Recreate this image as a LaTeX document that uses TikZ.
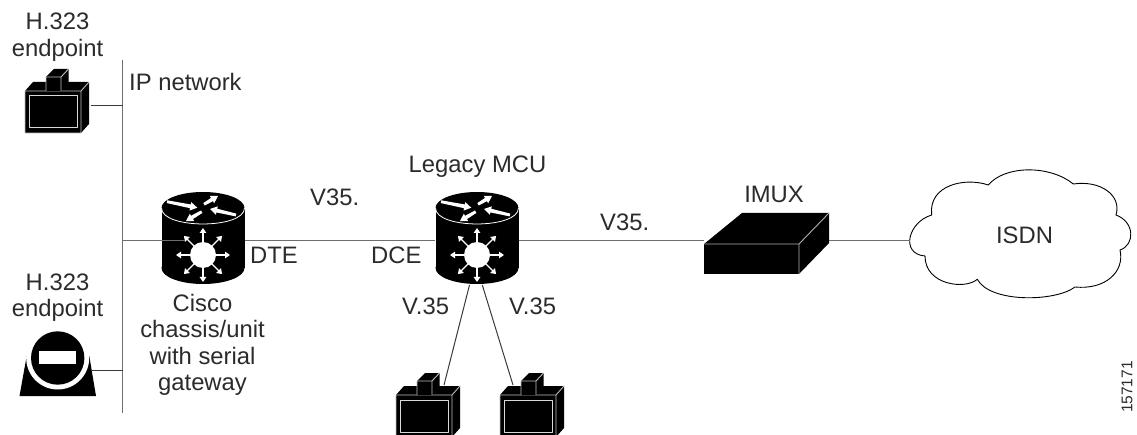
\documentclass[tikz,border=0pt]{standalone}
\usepackage{fontspec}
\setmainfont{Liberation Sans}
\usetikzlibrary{arrows.meta,calc}
\definecolor{txt}{HTML}{2B2B2B}
\definecolor{ln}{HTML}{3A3A3A}
\definecolor{bus}{HTML}{6E6E6E}
\newcommand{\bigarr}[2]{%
  \coordinate (aT) at (#1); \coordinate (aH) at (#2);
  \coordinate (aN) at ($(aH)!7pt!(aT)$);
  \fill[white] ($(aT)!1.4pt!90:(aH)$) -- ($(aN)!1.9pt!90:(aH)$) -- ($(aN)!4.3pt!90:(aH)$) -- (aH)
    -- ($(aN)!4.3pt!-90:(aH)$) -- ($(aN)!1.9pt!-90:(aH)$) -- ($(aT)!1.4pt!-90:(aH)$) -- cycle;
}
\tikzset{
  x=1pt,y=-1pt,
  lbl/.style={font=\fontsize{23.8}{26}\selectfont,text=txt,inner sep=0pt,anchor=base},
  conn/.style={draw=ln,line width=1pt},
  busline/.style={draw=bus,line width=1.3pt},
  slot/.style={inner sep=0pt,outer sep=0pt,minimum width=#1},
  edge white/.style={draw=white,line width=0.9pt,line join=round},
  starrow/.style={draw=white,line width=1.4pt,-{Triangle[length=5pt,width=6.5pt]}},
  pics/camera/.style={code={
    \fill[black] (-28,-21) -- (-20,-30) -- (36,-30) -- (36,12) -- (28,21) -- (-28,21) -- cycle;
    \draw[edge white,draw=white!75!black] (-28,-21) -- (28,-21) -- (36,-30) (28,-21) -- (28,21) -- (-28,21) -- (-28,-21);
    \draw[edge white,draw=white!85!black,line width=1pt] (-24,-16) rectangle (24,16);
    \fill[black] (-7,-21) -- (-7,-35) -- (1,-43) -- (15.5,-43) -- (15.5,-29) -- (8,-21) -- cycle;
    \draw[edge white,draw=white!75!black] (-7,-21) -- (-7,-35) -- (8,-35) -- (8,-21) (8,-35) -- (15.5,-43);
  }},
  pics/router/.style={code={
    \fill[black] (0,-16) ellipse[x radius=41.5,y radius=16];
    \fill[black] (0,44) ellipse[x radius=41.5,y radius=16];
    \fill[black] (-41.5,-16) rectangle (41.5,44);
    \draw[white,line width=0.8pt] (-41.5,-16) .. controls (-41.5,5.3) and (41.5,5.3) .. (41.5,-16);
    \bigarr{-36,-22.3}{-5.7,-16.3}
    \bigarr{1,-19.7}{15,-28}
    \bigarr{33,-9}{7,-15}
    \bigarr{-1.3,-12.3}{-17,-3}
    \fill[white] (0,31) circle[radius=13];
    \foreach \a in {0,45,...,315}
      \draw[starrow] ($(0,31)+(\a:10)$) -- ($(0,31)+(\a:27)$);
  }},
}
\begin{document}
\begin{tikzpicture}
\useasboundingbox (0,0) rectangle (1137,435);
\fill[white] (0,0) rectangle (1137,435);

% anchor nodes for the icons
\node[slot=56,minimum height=42] (camA) at (53,112) {};
\node[slot=56,minimum height=42] (camB) at (424,416) {};
\node[slot=56,minimum height=42] (camC) at (528,416) {};
\node[slot=83,minimum height=93] (routerA) at (203,239) {};
\node[slot=83,minimum height=93] (routerB) at (477,239) {};
\node[slot=76,minimum height=66] (phone) at (58,363) {};
\node[slot=125,minimum height=61] (imux) at (767,243.5) {};
\node[lbl,anchor=center,minimum width=219,minimum height=127] (cloud) at (1019.5,233.5) {};

\coordinate (busTop) at (122.5,60);
\coordinate (busBot) at (122.5,413);
\coordinate (busA) at (122.5,105.5);
\coordinate (busR) at (122.5,240.5);
\coordinate (busP) at (122.5,370.5);
\coordinate (intoA) at (185,240.5);
\coordinate (outA) at (245,240.5);
\coordinate (inB) at (435,240.5);
\coordinate (outB) at (519,240.5);
\coordinate (inI) at (704,240.5);
\coordinate (outI) at (829,240.5);
\coordinate (inC) at (910,240.5);
\coordinate (camAport) at (91,105.5);
\coordinate (phoneport) at (91,370.5);
\coordinate (rBl) at (469.5,285);
\coordinate (rBr) at (482.3,285);
\coordinate (camBport) at (444,385);
\coordinate (camCport) at (513,385);

% icons
\pic at (53,112) {camera};
\pic at (424,416) {camera};
\pic at (528,416) {camera};
\pic at (203,224) {router};
\pic at (477,224) {router};

% phone
\fill[black] (19.5,396) -- (26.7,356) -- (89.3,356) -- (96,396) -- cycle;
\fill[white] (57.7,358) circle[radius=31.5];
\fill[white] (20,325) rectangle (96,356);
\fill[black] (57.7,358) circle[radius=26.7];
\fill[white] (39,351) rectangle (76,364);

% imux
\fill[black] (704,244) -- (742,213) -- (829,213) -- (829,243) -- (799,274) -- (704,274) -- cycle;
\draw[edge white,draw=white!70!black] (704,244) -- (799,244) -- (829,213) (799,244) -- (799,274);

% cloud
\draw[black,line width=0.9pt,fill=white] (988.3,185)
  .. controls (1005,165) and (1050,165) .. (1073.3,184)
  .. controls (1100,180) and (1122,195) .. (1116,215)
  .. controls (1135,222) and (1135,245) .. (1120,250)
  .. controls (1125,272) and (1105,290) .. (1075,287)
  .. controls (1055,302) and (990,303) .. (977.3,279.3)
  .. controls (965,290) and (925,285) .. (925,256)
  .. controls (900,254) and (908,222) .. (931.7,215)
  .. controls (928,185) and (965,177) .. (988.3,185) -- cycle;

% connectors
\draw[busline] (busTop) -- (busBot);
\draw[conn] (camAport) -- (busA);
\draw[conn] (phoneport) -- (busP);
\draw[busline] (busR) -- (intoA);
\draw[busline] (outA) -- (inB);
\draw[busline] (outB) -- (inI);
\draw[busline] (outI) -- (inC);
\draw[conn] (rBl) -- (camBport);
\draw[conn] (rBr) -- (camCport);

% labels
\node[lbl] (t1) at (57.5,30) {H.323};
\node[lbl] (t2) at (57.5,56.5) {endpoint};
\node[lbl,anchor=base west] (t3) at (129,90.5) {IP network};
\node[lbl] (t4) at (57.5,290.5) {H.323};
\node[lbl] (t5) at (57.5,317) {endpoint};
\node[lbl] (t6) at (202.5,311.5) {Cisco};
\node[lbl] (t7) at (202.5,337.5) {chassis/unit};
\node[lbl] (t8) at (202.5,364) {with serial};
\node[lbl] (t9) at (202.5,390) {gateway};
\node[lbl] (t10) at (477.5,172.5) {Legacy MCU};
\node[lbl,anchor=base west] (t11) at (310,206) {V35.};
\node[lbl,anchor=base west] (t12) at (600,231) {V35.};
\node[lbl,anchor=base west] (t13) at (250,264) {DTE};
\node[lbl,anchor=base west] (t14) at (371,264) {DCE};
\node[lbl,anchor=base west] (t15) at (402,315) {V.35};
\node[lbl,anchor=base west] (t16) at (509,315) {V.35};
\node[lbl] (t17) at (774,203) {IMUX};
\node[lbl] (t18) at (1024.5,244) {ISDN};
\node[lbl,font=\fontsize{15.5}{20}\selectfont,rotate=90,anchor=center] (t19) at (1127,387) {157171};
\end{tikzpicture}
\end{document}
